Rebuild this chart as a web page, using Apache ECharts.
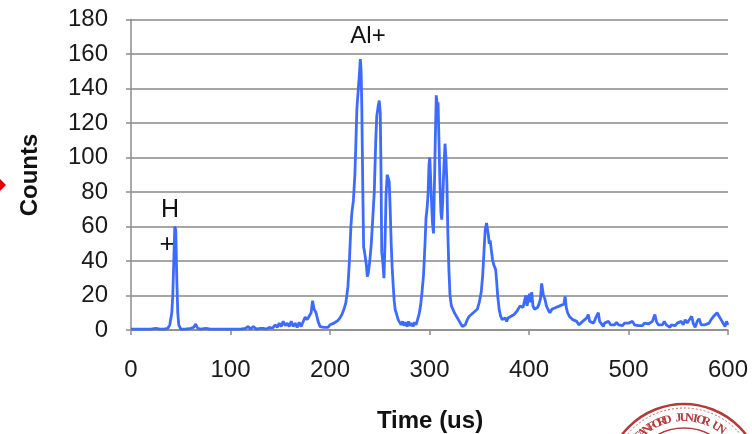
<!DOCTYPE html>
<html>
<head>
<meta charset="utf-8">
<script src="https://cdn.jsdelivr.net/npm/echarts@6/dist/echarts.min.js"></script>
<style>
html,body{margin:0;padding:0;background:#fff;}
#chart{width:752px;height:434px;}
</style>
</head>
<body>
<div id="chart"></div>
<script>
// Time (us)
var times = [0,5,10,15,20,25,27,29,33,37,39,41,42,43,44,45,46,47,48,50,55,60,63,65,67,70,75,77,80,85,90,92,95,100,105,110,115,118,120,123,126,130,133,136,139,142,145,147,149,151,153,155,157,159,161,163,165,167,169,171,173,175,177,179,181,182.5,184,186,188,190,192,194,196,198,200,202,204,206,208,210,212,214,216,218,219.5,221,222,223.5,225,226,227,228.5,229.5,230.5,231.3,232,233,233.8,234.5,235.5,236.5,237.5,238.5,240,241.5,243,244.5,246,247,248.5,249.5,250.5,251.3,252,253,254.2,255.3,256.3,257.5,258.5,259.5,260.5,261.5,262.5,263.5,264.5,265.5,267,268.5,270,271.5,273,274.5,276,277.5,279,280.5,282,283.5,285,286.5,288,289.5,291,292.5,294,295.5,296.5,297.5,298.5,299.5,300.3,301,302,303,304,305,305.8,306.8,307.8,308.6,309.5,310.5,311.5,312.3,313.3,314.5,315.6,316.5,317.5,318.5,319.5,320.6,322,323.5,325,327,329,331,333,334.5,336,338,340,342,344,346,348,350,352,353.5,355,356,357.3,358.3,359.2,360,361,362,363.3,364.5,365.5,366.5,367.5,368.5,370,371.5,373,374.5,376,377.5,379,380.5,382,383.5,385,386.5,388,389.5,391,392.5,394,395.5,397,398,399.4,400.5,401.5,402.7,404,405.5,407,408.5,410,411.5,412.7,413.5,414.5,416,417.5,419,421,423,425,427,429,431,433,435,436.3,437.5,438.8,440.5,442,444,446,448,450,452,454,456,458,459.6,461,463,465,467,468.5,469.7,471,473,474.7,476,478,480,482,484,486,488,490,492,494,496,498,500,502,504,506,508,510,512,514,516,518,520,522,524,526.5,528,530,532,534,536,538,540,541.7,543,545,547,549,551,553,555,557,559,561,563.5,565,567,569,571,573,575,577,579,581,583,585,587,589,591,593,595,597,598.5,600];
// Counts
var counts = [0.5,0.5,0.5,0.5,0.5,1,1.5,0.5,0.5,1,3,10,20,40,60,58,30,10,3,0.5,0.5,1,1.5,3.5,1,0.5,1,1.5,0.5,0.5,0.5,1.5,0.5,0.5,0.5,0.5,1,2,0.5,2,0.5,1,1,0.5,1.5,1,3,1.5,4,2,5,2.5,4,2,5,2,4,1.5,4.5,2,3,7.5,6,8,10,17,12,10,5,2,1,1.5,2,1.5,3,2.5,4,5,5.5,7,9,12,16,25,40,60,68,75,90,108,128,140,148,157,150,128,80,48,46,45,38,31,33,40,50,65,80,110,124,130,133,126,90,45,40,30,50,78,90,88,86,70,50,36,26,17,12,9,6,5,3,5,2.5,4.5,2,5,2.5,4,2,4.5,3,6,9,14,22,32,50,65,70,78,96,100,90,75,62,56,85,110,136,130,132,110,85,68,64,75,95,108,100,85,55,35,20,14,12,10,9,6,4,2,1,3,6,8,7,10,9,12,16,22,32,48,58,62,63,55,50,52,47,41,38,38,35,28,20,12,8,6,5,7,5,7,6,8,7,9,8,11,10,14,15,13,17,20,14,13,21,16,22,14,12,11,13,15,18,27,28,20,18,14,12,10,12,11,13,12,14,13,15,19.5,13,10,8,9,6,7,5,3,4,5,4,7,9,5,6,4,7,6,10,5,6,2,4,3,5,3,4,3,4.5,3,4,2.5,4,3,4,3.5,5,3,4,2.5,3,2.5,4,3,3.5,2.5,5,9,5,3,4,3,5,3,4,1.5,3,4,2.5,4,3.5,5,3,6,4,5,8,4,1.5,5,6.5,3,4,3,3,4,6,7.5,8.5,10,8,6,5,2,5,3];
var xTicks = [0,100,200,300,400,500,600];
var yTicks = [0,20,40,60,80,100,120,140,160,180];

var data = times.map(function(t,i){return [t, counts[i]];});

var chart = echarts.init(document.getElementById('chart'), null, {renderer:'canvas'});
var font = '"Liberation Sans", Arial, sans-serif';
var seal = [];
var cx = 684, cy = 482, R = 78;
seal.push({type:'circle', shape:{cx:cx, cy:cy, r:R}, style:{fill:'#fff', stroke:'#b23a3a', lineWidth:2.5}, z:10});
seal.push({type:'circle', shape:{cx:cx, cy:cy, r:R-4}, style:{fill:'none', stroke:'#c46060', lineWidth:1, lineDash:[2,2]}, z:10});
seal.push({type:'circle', shape:{cx:cx, cy:cy, r:R-24}, style:{fill:'none', stroke:'#b23a3a', lineWidth:1.5}, z:10});
var letters = 'STANFORD JUNIOR UN'.split('');
var a0 = -2.45, da = 0.088;
letters.forEach(function(ch, i){
  var a = a0 + i*da;
  seal.push({type:'text', x: cx + (R-14)*Math.cos(a), y: cy + (R-14)*Math.sin(a), rotation: -(a + Math.PI/2),
    style:{text:ch, fill:'#b23a3a', font:'bold 12px "Liberation Serif", serif', align:'center', verticalAlign:'middle'}, z:11});
});

chart.setOption({
  animation:false,
  backgroundColor:'#fff',
  grid:{left:131, right:24, top:19.5, bottom:104, containLabel:false},
  xAxis:{
    type:'value', min:0, max:600, interval:100,
    axisLine:{show:true, lineStyle:{color:'#8c8c8c', width:1.5}},
    axisTick:{show:true, inside:false, length:5, lineStyle:{color:'#8c8c8c', width:1.5}},
    splitLine:{show:false},
    axisLabel:{margin:28, fontSize:24, color:'#1a1a1a', fontFamily:font,
      formatter:function(v){return xTicks.indexOf(v)>=0 ? String(v) : '';}}
  },
  yAxis:{
    type:'value', min:0, max:180, interval:20,
    axisLine:{show:true, lineStyle:{color:'#8c8c8c', width:1.5}},
    axisTick:{show:true, inside:false, length:5, lineStyle:{color:'#8c8c8c', width:1.5}},
    splitLine:{show:true, lineStyle:{color:'#a6a6a6', width:2}},
    axisLabel:{margin:23, fontSize:24, color:'#1a1a1a', fontFamily:font,
      formatter:function(v){return yTicks.indexOf(v)>=0 ? String(v) : '';}}
  },
  series:[{
    type:'line', data:data, showSymbol:false, symbol:'none', smooth:false,
    lineStyle:{color:'#3d6bff', width:2.8}, z:5
  }],
  graphic:[
    {type:'text', x:430, y:421, style:{text:'Time (us)', font:'bold 24px '+font, fill:'#111', align:'center', verticalAlign:'middle'}},
    {type:'text', x:30, y:175, rotation:Math.PI/2, style:{text:'Counts', font:'bold 24px '+font, fill:'#111', align:'center', verticalAlign:'middle'}},
    {type:'text', x:170, y:210, style:{text:'H', font:'25px '+font, fill:'#111', align:'center', verticalAlign:'middle'}},
    {type:'text', x:167, y:245, style:{text:'+', font:'26px '+font, fill:'#111', align:'center', verticalAlign:'middle'}},
    {type:'text', x:368, y:36, style:{text:'Al+', font:'24px '+font, fill:'#111', align:'center', verticalAlign:'middle'}},
    {type:'polygon', shape:{points:[[0,179],[6,185],[0,191]]}, style:{fill:'#e00000'}}
  ].concat(seal)
});
</script>
</body>
</html>
